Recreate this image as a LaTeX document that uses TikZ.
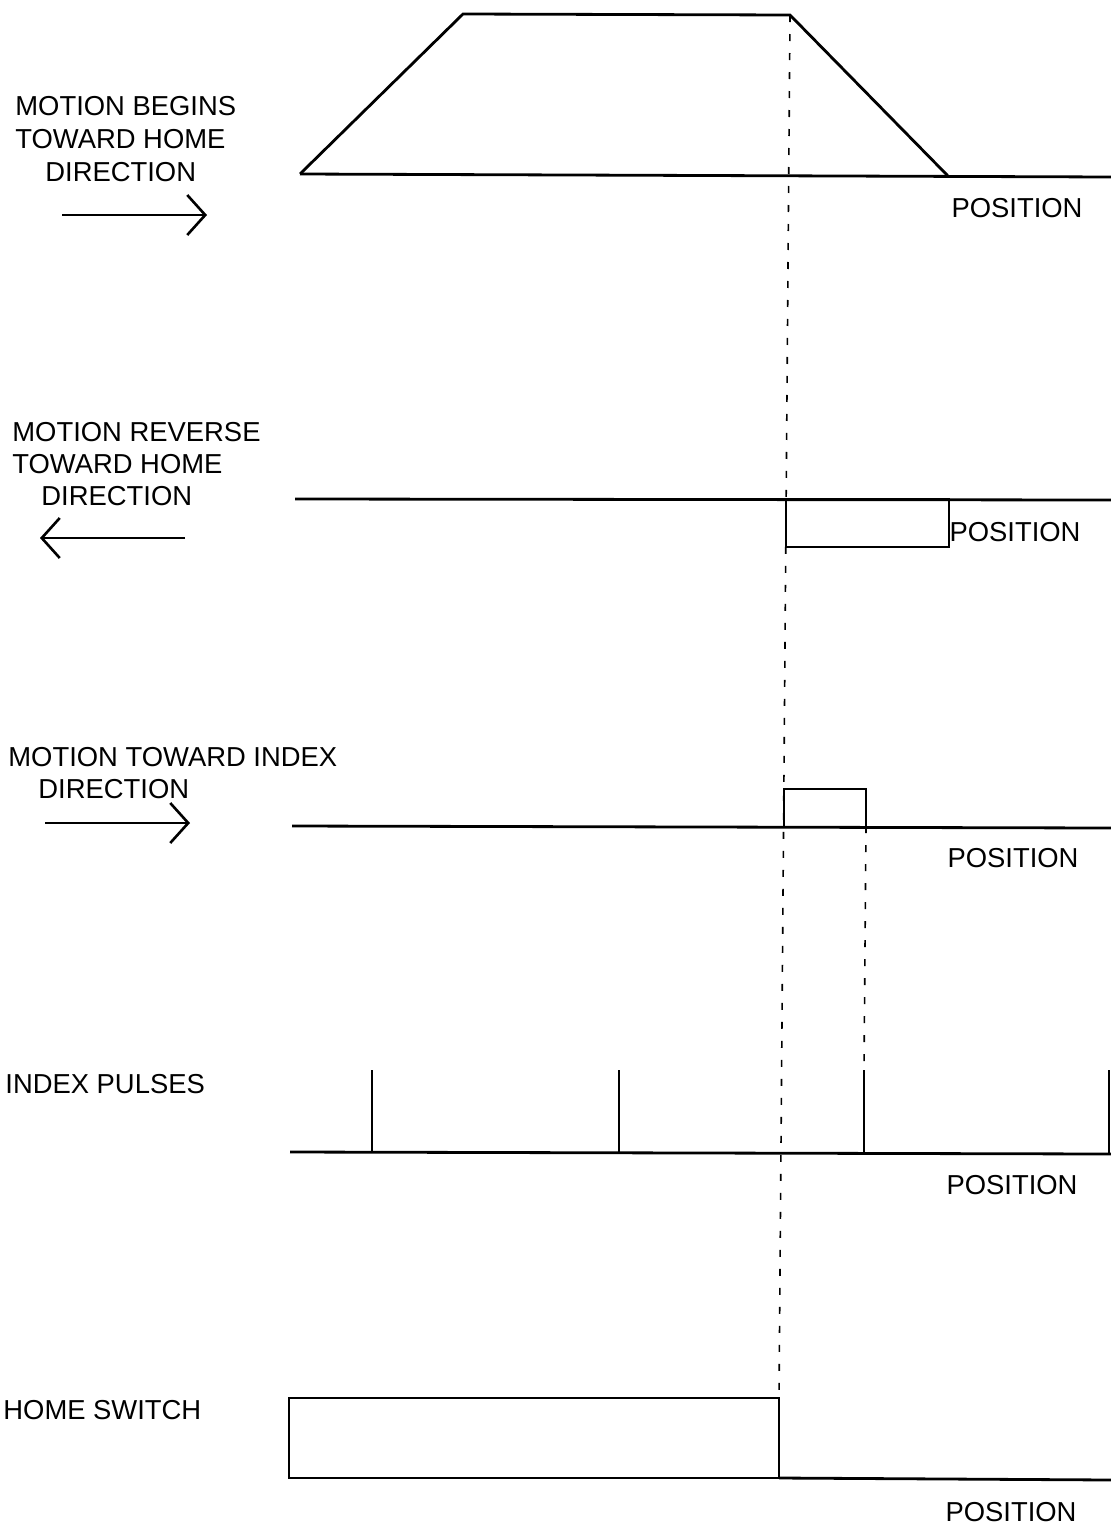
\documentclass[tikz,border=0pt]{standalone}
\usepackage{fontspec}
\setmainfont{Liberation Sans}
\usetikzlibrary{arrows.meta,positioning}

\begin{document}
\begin{tikzpicture}[
  x=0.5pt, y=-0.5pt,
  sig/.style={line width=1.4pt, line join=miter},
  tick/.style={line width=1pt},
  guide/.style={line width=0.8pt, dash pattern=on 3.5pt off 6pt},
  lbl/.style={anchor=west, inner sep=0pt, font=\fontsize{13.7}{16}\selectfont},
  axis/.style={inner sep=0pt, font=\fontsize{13.7}{16}\selectfont},
  dir/.style={line width=1.3pt, -{Straight Barb[length=9pt,width=20pt,line width=1.3pt]}}
]
\useasboundingbox (0,0) rectangle (1111,1532);

% velocity profile
\coordinate (v0) at (300,174);
\coordinate (v1) at (463,14);
\coordinate (v2) at (790,15);
\coordinate (v3) at (948,176);
\coordinate (vend) at (1111,177);
\draw[sig] (v0) -- (v1) -- (v2) -- (v3);
\draw[sig] (v0) -- (vend);
\node[lbl] (beg1) at (15,106) {MOTION BEGINS};
\node[lbl] (beg2) at (15,139) {TOWARD HOME};
\node[lbl] (beg3) at (45,172) {DIRECTION};
\coordinate (a1s) at (62,215);
\coordinate (a1e) at (207,215);
\draw[dir] (a1s) -- (a1e);
\node[axis] (pos1) at (1017,208) {POSITION};

% reverse
\coordinate (r0) at (295,499);
\coordinate (rend) at (1111,500);
\coordinate (r1) at (786,499);
\coordinate (r2) at (949,547);
\draw[sig] (r0) -- (rend);
\draw[sig] (r1) rectangle (r2);
\node[lbl] (rev1) at (12,432) {MOTION REVERSE};
\node[lbl] (rev2) at (12,464) {TOWARD HOME};
\node[lbl] (rev3) at (41,496) {DIRECTION};
\coordinate (a2s) at (185,538);
\coordinate (a2e) at (40,538);
\draw[dir] (a2s) -- (a2e);
\node[axis] (pos2) at (1015,532) {POSITION};

% toward index
\coordinate (t0) at (292,826);
\coordinate (tend) at (1111,828);
\coordinate (t1) at (784,826);
\coordinate (t2) at (866,789);
\draw[sig] (t0) -- (tend);
\draw[sig] (t1) |- (t2) -- (t2 |- t0);
\node[lbl] (tow1) at (8,757) {MOTION TOWARD INDEX};
\node[lbl] (tow2) at (38,789) {DIRECTION};
\coordinate (a3s) at (45,823);
\coordinate (a3e) at (190,823);
\draw[dir] (a3s) -- (a3e);
\node[axis] (pos3) at (1013,858) {POSITION};

% index pulses
\coordinate (p0) at (290,1152);
\coordinate (pend) at (1111,1154);
\draw[sig] (p0) -- (pend);
\foreach \x [count=\i] in {372,619,864,1109} {
  \coordinate (ib\i) at (\x,1153);
  \coordinate (ip\i) at (\x,1070);
  \draw[tick] (ib\i) -- (ip\i);
}
\node[lbl] (idx) at (5,1084) {INDEX PULSES};
\node[axis] (pos4) at (1012,1185) {POSITION};

% home switch
\coordinate (h0) at (289,1478);
\coordinate (h1) at (779,1398);
\coordinate (hend) at (1111,1480);
\draw[sig] (h0) rectangle (h1);
\draw[sig] (h1 |- h0) -- (hend);
\node[lbl] (home) at (3,1410) {HOME SWITCH};
\node[axis] (pos5) at (1011,1512) {POSITION};

% guides
\draw[guide] (v2) -- (h1);
\draw[guide] (t2 |- t0) -- (ip3);
\end{tikzpicture}
\end{document}
